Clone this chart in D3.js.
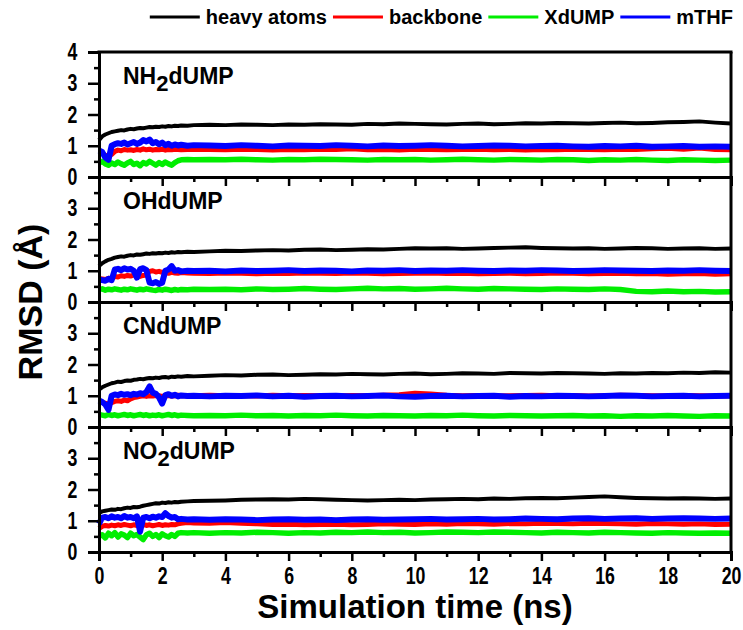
<!DOCTYPE html>
<html>
<head>
<meta charset="utf-8">
<script src="https://cdn.jsdelivr.net/npm/d3@7/dist/d3.min.js"></script>
<style>
  body { margin: 0; background: #fff; }
  text { font-family: "Liberation Sans", Arial, sans-serif; font-weight: bold; }
  .tick-lab { transform-box: fill-box; transform-origin: center; transform: scaleX(0.74); }
</style>
</head>
<body>
<div id="container"></div>
<script>
/* CONSTANTS AND GLOBALS */
const width = 743;
const height = 630;
const margin = { top: 52, bottom: 78, left: 99, right: 12 };

/* DATA */
// time axis (ns): dense at the start where the traces move, then every 0.5 ns
const time = [0,0.1,0.2,0.3,0.4,0.5,0.6,0.7,0.8,0.9,1.0,1.1,1.2,1.3,1.4,1.5,1.6,1.7,1.8,1.9,2.0,2.1,2.2,2.3,2.4,2.5,2.6,2.8,3.0,
  3.5,4,4.5,5,5.5,6,6.5,7,7.5,8,8.5,9,9.5,10,10.5,11,11.5,12,12.5,13,13.5,14,14.5,15,15.5,16,16.5,17,17.5,18,18.5,19,19.5,20];

const seriesNames = ["heavy atoms", "backbone", "XdUMP", "mTHF"];
const seriesColors = ["#000000", "#ff0000", "#00ee00", "#0000ff"];
const panelNames = ["NH2dUMP", "OHdUMP", "CNdUMP", "NO2dUMP"];
const xTicks = [0,2,4,6,8,10,12,14,16,18,20];

// NH2dUMP
const heavyNH2 = [1.18,1.30,1.36,1.40,1.44,1.46,1.48,1.50,1.49,1.52,1.54,1.53,1.55,1.57,1.56,1.58,1.60,1.59,1.61,1.60,1.62,1.61,1.63,1.62,1.64,1.63,1.65,1.64,1.66,
  1.67,1.66,1.68,1.67,1.66,1.68,1.67,1.69,1.68,1.67,1.70,1.69,1.71,1.70,1.69,1.68,1.70,1.71,1.69,1.70,1.72,1.71,1.73,1.72,1.71,1.73,1.74,1.72,1.73,1.75,1.76,1.78,1.74,1.71];
const backboneNH2 = [0.80,0.75,0.70,0.68,0.72,0.82,0.86,0.84,0.88,0.86,0.87,0.85,0.88,0.86,0.90,0.87,0.89,0.86,0.88,0.87,0.89,0.86,0.88,0.87,0.89,0.88,0.87,0.88,0.89,
  0.88,0.87,0.89,0.88,0.86,0.88,0.87,0.89,0.88,0.90,0.87,0.88,0.86,0.89,0.88,0.87,0.88,0.89,0.87,0.88,0.86,0.88,0.87,0.89,0.88,0.87,0.89,0.88,0.90,0.92,0.89,0.93,0.88,0.87];
const ligandNH2 = [0.45,0.50,0.42,0.38,0.45,0.40,0.48,0.42,0.38,0.45,0.50,0.40,0.44,0.36,0.46,0.42,0.50,0.44,0.38,0.46,0.40,0.48,0.42,0.38,0.46,0.52,0.55,0.56,0.55,
  0.56,0.55,0.57,0.55,0.54,0.56,0.55,0.57,0.56,0.55,0.54,0.56,0.55,0.56,0.54,0.55,0.57,0.55,0.54,0.56,0.55,0.54,0.56,0.55,0.53,0.55,0.54,0.56,0.54,0.53,0.55,0.54,0.53,0.54];
const mthfNH2 = [0.85,0.80,0.62,0.55,1.00,1.05,1.08,1.06,1.10,1.04,1.08,1.12,1.06,1.10,1.18,1.14,1.20,1.08,1.12,1.05,1.10,1.02,1.06,1.00,1.04,1.01,1.03,1.00,1.02,
  1.01,0.99,1.02,1.00,0.98,1.01,1.00,0.99,1.02,1.00,0.98,1.01,0.99,1.00,1.02,1.00,0.98,0.99,1.01,1.00,0.98,0.99,1.00,0.98,0.97,0.99,0.98,1.00,0.97,0.98,0.99,0.97,0.98,0.97];

// OHdUMP
const heavyOH = [1.15,1.24,1.30,1.35,1.38,1.42,1.44,1.46,1.45,1.48,1.50,1.49,1.52,1.51,1.53,1.55,1.54,1.56,1.55,1.57,1.56,1.58,1.57,1.59,1.58,1.60,1.59,1.61,1.60,
  1.62,1.64,1.63,1.65,1.66,1.65,1.67,1.68,1.66,1.67,1.69,1.68,1.70,1.72,1.71,1.72,1.70,1.71,1.73,1.74,1.75,1.73,1.72,1.71,1.72,1.70,1.71,1.73,1.72,1.70,1.71,1.72,1.70,1.71];
const backboneOH = [0.75,0.74,0.72,0.76,0.74,0.82,0.80,0.84,0.82,0.85,0.83,0.86,0.84,0.82,0.85,0.86,0.98,1.00,0.96,0.98,0.95,0.94,0.92,0.95,0.93,0.92,0.94,0.93,0.92,
  0.91,0.93,0.92,0.90,0.92,0.91,0.93,0.92,0.91,0.93,0.92,0.90,0.91,0.92,0.93,0.91,0.92,0.90,0.91,0.92,0.90,0.91,0.93,0.92,0.90,0.91,0.92,0.90,0.91,0.89,0.90,0.91,0.89,0.90];
const ligandOH = [0.40,0.42,0.38,0.41,0.39,0.42,0.40,0.38,0.41,0.39,0.42,0.40,0.38,0.41,0.39,0.42,0.40,0.38,0.37,0.40,0.38,0.41,0.39,0.37,0.40,0.38,0.40,0.39,0.41,
  0.40,0.41,0.39,0.42,0.40,0.41,0.43,0.41,0.40,0.42,0.44,0.42,0.43,0.41,0.42,0.44,0.42,0.41,0.43,0.42,0.41,0.40,0.42,0.41,0.40,0.42,0.40,0.34,0.33,0.35,0.33,0.34,0.32,0.33];
const mthfOH = [0.72,0.70,0.68,0.74,0.70,1.04,1.06,1.02,1.08,1.04,1.06,1.00,0.78,1.05,1.08,1.02,0.62,0.60,0.64,0.58,0.62,1.00,1.04,1.15,1.00,1.02,0.98,1.00,0.99,
  1.00,0.98,1.01,0.99,1.00,1.02,0.99,1.01,1.00,0.98,1.01,1.00,1.02,0.99,1.01,1.00,1.02,1.00,0.99,1.01,1.00,1.02,1.01,0.99,1.00,1.02,1.01,1.00,0.99,1.01,1.00,1.02,1.00,0.99];

// CNdUMP
const heavyCN = [1.20,1.27,1.32,1.36,1.40,1.42,1.45,1.44,1.47,1.49,1.48,1.51,1.52,1.54,1.53,1.55,1.57,1.56,1.58,1.57,1.59,1.60,1.58,1.61,1.60,1.62,1.61,1.63,1.62,
  1.64,1.66,1.65,1.67,1.68,1.66,1.67,1.69,1.68,1.70,1.69,1.68,1.70,1.71,1.69,1.70,1.72,1.71,1.70,1.73,1.72,1.71,1.73,1.72,1.71,1.70,1.72,1.71,1.73,1.72,1.74,1.73,1.75,1.74];
const backboneCN = [0.80,0.78,0.76,0.74,0.78,0.82,0.84,0.82,0.86,0.84,0.90,0.94,0.96,0.98,1.00,0.98,1.00,0.99,1.01,1.00,0.98,1.00,1.01,0.99,1.00,1.02,1.00,1.01,1.00,
  1.02,1.00,1.01,0.99,1.02,1.00,1.01,1.00,0.99,1.01,1.00,1.02,1.03,1.08,1.06,1.02,1.00,1.01,0.99,1.00,1.01,1.02,1.00,1.01,0.99,1.00,1.02,1.01,1.00,0.99,1.01,1.00,0.99,1.00];
const ligandCN = [0.40,0.38,0.36,0.40,0.37,0.39,0.36,0.38,0.40,0.37,0.39,0.36,0.38,0.40,0.37,0.39,0.36,0.38,0.37,0.39,0.36,0.38,0.40,0.37,0.39,0.36,0.38,0.37,0.36,
  0.37,0.36,0.38,0.36,0.37,0.35,0.37,0.36,0.38,0.36,0.35,0.37,0.36,0.35,0.37,0.36,0.38,0.36,0.35,0.37,0.36,0.35,0.36,0.37,0.35,0.36,0.34,0.36,0.35,0.37,0.35,0.34,0.36,0.35];
const mthfCN = [0.85,0.80,0.72,0.55,1.00,1.04,1.02,1.06,1.03,1.05,1.02,1.06,1.04,1.08,1.05,1.12,1.30,1.10,1.06,0.95,0.75,1.02,1.05,1.00,1.03,0.98,1.01,0.99,1.00,
  0.98,1.00,0.99,1.01,0.98,1.00,0.97,0.99,1.00,0.98,0.99,1.01,0.98,0.97,0.99,1.00,0.98,0.99,1.00,0.97,0.99,0.98,1.00,0.99,0.98,0.99,1.01,1.00,0.98,0.99,1.00,0.98,0.99,1.00];

// NO2dUMP
const heavyNO2 = [1.25,1.30,1.32,1.34,1.36,1.35,1.38,1.37,1.40,1.42,1.41,1.44,1.43,1.45,1.48,1.50,1.52,1.54,1.56,1.55,1.58,1.57,1.59,1.58,1.60,1.59,1.61,1.62,1.63,
  1.64,1.65,1.67,1.68,1.69,1.68,1.70,1.69,1.67,1.66,1.65,1.66,1.67,1.66,1.68,1.69,1.70,1.69,1.71,1.70,1.72,1.73,1.72,1.74,1.76,1.78,1.75,1.73,1.72,1.71,1.72,1.71,1.70,1.71];
const backboneNO2 = [0.75,0.82,0.85,0.83,0.86,0.84,0.87,0.85,0.88,0.86,0.84,0.87,0.85,0.86,0.88,0.85,0.87,0.84,0.86,0.88,0.85,0.87,0.86,0.88,0.87,0.90,0.92,0.94,0.93,
  0.92,0.94,0.92,0.90,0.88,0.89,0.87,0.88,0.89,0.87,0.88,0.90,0.89,0.88,0.90,0.89,0.91,0.90,0.89,0.91,0.90,0.92,0.91,0.90,0.92,0.91,0.90,0.89,0.91,0.90,0.89,0.90,0.88,0.89];
const ligandNO2 = [0.50,0.55,0.45,0.60,0.52,0.62,0.48,0.58,0.54,0.46,0.60,0.52,0.56,0.48,0.40,0.55,0.60,0.50,0.56,0.46,0.58,0.52,0.48,0.56,0.50,0.60,0.62,0.61,0.62,
  0.60,0.62,0.61,0.63,0.62,0.60,0.62,0.61,0.63,0.62,0.64,0.62,0.63,0.61,0.62,0.64,0.63,0.62,0.64,0.63,0.62,0.61,0.63,0.62,0.61,0.63,0.62,0.61,0.60,0.62,0.61,0.60,0.61,0.60];
const mthfNO2 = [0.90,1.10,1.12,1.08,1.14,1.10,1.12,1.08,1.15,1.10,1.12,1.08,1.14,0.65,1.10,1.12,1.08,1.13,1.10,1.14,1.12,1.24,1.15,1.10,1.12,1.05,1.06,1.04,1.05,
  1.03,1.05,1.04,1.02,1.04,1.05,1.03,1.04,1.02,1.04,1.05,1.03,1.04,1.05,1.06,1.04,1.05,1.06,1.04,1.05,1.07,1.06,1.05,1.07,1.08,1.06,1.07,1.08,1.06,1.07,1.08,1.07,1.06,1.07];

// table the drawing code uses: panel -> [heavy, backbone, XdUMP, mTHF]
const panelSeries = [
  [heavyNH2, backboneNH2, ligandNH2, mthfNH2],
  [heavyOH, backboneOH, ligandOH, mthfOH],
  [heavyCN, backboneCN, ligandCN, mthfCN],
  [heavyNO2, backboneNO2, ligandNO2, mthfNO2]
];
const strokeWidths = [4, 5, 5.5, 6];
const drawOrder = [0, 2, 1, 3];

/* SCALES */
const plotH = height - margin.top - margin.bottom;
const panelH = plotH / panelNames.length;

const xScale = d3.scaleLinear()
  .domain([0, 20])
  .range([margin.left, width - margin.right]);

/* HTML ELEMENTS */
const svg = d3.select("#container")
  .append("svg")
  .attr("width", width)
  .attr("height", height);

const line = (yScale) => d3.line()
  .x((d, i) => xScale(time[i]))
  .y(d => yScale(d));

panelNames.forEach((name, p) => {
  const top = margin.top + p * panelH;
  const yScale = d3.scaleLinear()
    .domain([0, 4])
    .range([top + panelH, top]);

  const g = svg.append("g");

  // traces
  drawOrder.forEach(s => {
    g.append("path")
      .datum(panelSeries[p][s])
      .attr("fill", "none")
      .attr("stroke", seriesColors[s])
      .attr("stroke-width", strokeWidths[s])
      .attr("stroke-linejoin", "round")
      .attr("d", line(yScale));
  });

  // y axis: minor + major ticks
  const yMinor = d3.axisLeft(yScale).tickValues([0.5,1.5,2.5,3.5]).tickSize(5).tickFormat("");
  g.append("g").attr("class", "axis")
    .attr("transform", `translate(${margin.left},0)`)
    .call(yMinor);
  const yMajorVals = p === 0 ? [0,1,2,3,4] : [0,1,2,3];
  const yAxis = d3.axisLeft(yScale).tickValues(yMajorVals).tickSize(11).tickPadding(9).tickFormat(d3.format("d"));
  g.append("g").attr("class", "axis y-major")
    .attr("transform", `translate(${margin.left},0)`)
    .call(yAxis);

  // x axis for each panel
  const xMinor = d3.axisBottom(xScale).tickValues(d3.range(1, 20, 2)).tickSize(5).tickFormat("");
  g.append("g").attr("class", "axis")
    .attr("transform", `translate(0,${top + panelH})`)
    .call(xMinor);
  const xAxis = d3.axisBottom(xScale).tickValues(xTicks).tickSize(9).tickPadding(6)
    .tickFormat(p === panelNames.length - 1 ? d3.format("d") : "");
  g.append("g").attr("class", "axis x-major")
    .attr("transform", `translate(0,${top + panelH})`)
    .call(xAxis);

  // right border
  g.append("line")
    .attr("x1", width - margin.right).attr("x2", width - margin.right)
    .attr("y1", top).attr("y2", top + panelH)
    .attr("stroke", "#000").attr("stroke-width", 3);

  // panel label with subscript 2
  const lab = g.append("text")
    .attr("x", margin.left + 24)
    .attr("y", top + 32)
    .attr("font-size", 23);
  const m = name.match(/^(.*?)2(.*)$/);
  if (m) {
    lab.append("tspan").text(m[1]);
    lab.append("tspan").attr("dy", 7).attr("font-size", 22).text("2");
    lab.append("tspan").attr("dy", -7).text(m[2]);
  } else {
    lab.text(name);
  }
});

// top border of first panel
svg.append("line")
  .attr("x1", margin.left - 1.5).attr("x2", width - margin.right + 1.5)
  .attr("y1", margin.top).attr("y2", margin.top)
  .attr("stroke", "#000").attr("stroke-width", 3);

// axis styling
svg.selectAll(".axis path.domain").attr("stroke", "#000").attr("stroke-width", 3);
svg.selectAll(".axis .tick line").attr("stroke", "#000").attr("stroke-width", 2.5);
svg.selectAll(".axis .tick text")
  .attr("class", "tick-lab")
  .attr("fill", "#000")
  .attr("font-size", 24)
  .attr("font-weight", "bold");

// axis titles
svg.append("text")
  .attr("x", (margin.left + width - margin.right) / 2)
  .attr("y", 618)
  .attr("text-anchor", "middle")
  .attr("font-size", 33)
  .text("Simulation time (ns)");

svg.append("text")
  .attr("transform", `translate(42,${margin.top + plotH / 2}) rotate(-90)`)
  .attr("text-anchor", "middle")
  .attr("font-size", 34)
  .text("RMSD (Å)");

// legend, laid out right-to-left so it ends at the plot's right edge
const legend = svg.append("g");
let lx = 733;
for (let i = seriesNames.length - 1; i >= 0; i--) {
  const t = legend.append("text")
    .attr("x", lx)
    .attr("y", 24)
    .attr("text-anchor", "end")
    .attr("font-size", 20)
    .text(seriesNames[i]);
  lx -= t.node().getComputedTextLength() + 6;
  legend.append("line")
    .attr("x1", lx - 50).attr("x2", lx)
    .attr("y1", 17).attr("y2", 17)
    .attr("stroke", seriesColors[i]).attr("stroke-width", 3);
  lx -= 56;
}
</script>
</body>
</html>
